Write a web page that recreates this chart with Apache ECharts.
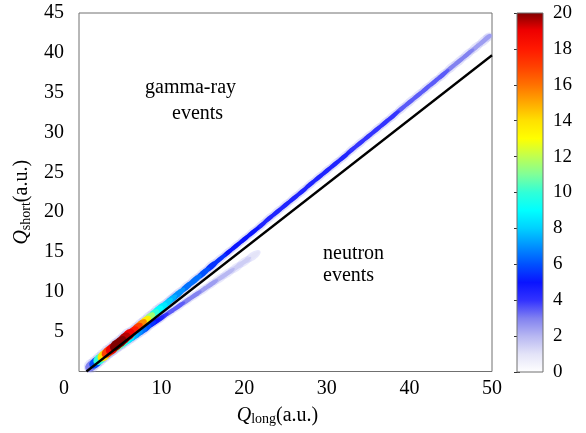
<!DOCTYPE html>
<html>
<head>
<meta charset="utf-8">
<script src="https://cdn.jsdelivr.net/npm/echarts@6/dist/echarts.min.js"></script>
<style>
  html, body { margin: 0; padding: 0; background: #ffffff; }
  #chart { width: 586px; height: 433px; }
</style>
</head>
<body>
<div id="chart"></div>
<script>
// Gamma-ray band: Q_long, centre of Q_short and counts per bin
const gammaQlong = [1.5, 2, 2.5, 3, 3.5, 4, 4.5, 5, 5.5, 6, 6.5, 7, 7.5, 8, 8.5, 9, 9.5, 10, 10.5, 11, 11.5, 12,
  13, 14, 15, 16, 17, 18, 19, 20, 21, 22, 23, 24, 25, 26, 27, 28, 29, 30, 31, 32, 33, 34, 35, 36, 37, 38, 39, 40,
  41, 42, 43, 44, 45, 46, 47, 48, 49, 49.5];
const gammaQshort = [0.7, 1.1, 1.55, 2.0, 2.45, 2.85, 3.3, 3.7, 4.15, 4.6, 5.0, 5.45, 5.9, 6.3, 6.75, 7.15, 7.6, 8.0, 8.45, 8.9, 9.3, 9.75,
  10.6, 11.45, 12.3, 13.2, 14.05, 14.9, 15.75, 16.6, 17.45, 18.3, 19.2, 20.05, 20.9, 21.75, 22.6, 23.5, 24.35, 25.2,
  26.05, 26.9, 27.8, 28.65, 29.5, 30.35, 31.2, 32.05, 32.95, 33.8, 34.65, 35.5, 36.35, 37.2, 38.1, 38.95, 39.8, 40.65, 41.5, 41.95];
const gammaCount = [3, 6, 10, 14, 17, 19, 20, 20, 19.5, 19, 18, 17, 15.5, 13.5, 11.5, 10, 9, 8.5, 8, 7.5, 7, 7,
  6.5, 6.5, 6, 5.5, 5.5, 5, 5, 5, 5, 4.5, 4.5, 4.5, 4.5, 4.5, 4.5, 4.5, 4.5, 4.5,
  4.5, 4.5, 4, 4, 4, 4, 4, 4, 3.5, 3.5, 3.5, 3.5, 3.5, 3.5, 3, 3, 3, 2.5, 2.5, 2.5];

// Neutron band
const neutronQlong = [2.5, 3, 3.5, 4, 4.5, 5, 5.5, 6, 6.5, 7, 7.5, 8, 8.5, 9, 9.5, 10, 11, 12, 13, 14, 15, 16, 17, 18, 19, 20, 21];
const neutronQshort = [1.5, 1.85, 2.2, 2.55, 2.9, 3.25, 3.6, 3.95, 4.3, 4.65, 5.0, 5.35, 5.7, 6.05, 6.4, 6.75, 7.45, 8.15, 8.85, 9.55,
  10.25, 10.95, 11.65, 12.35, 13.05, 13.75, 14.45];
const neutronCount = [5, 8, 10, 11, 11, 10.5, 9.5, 8.5, 7.5, 7, 6.5, 6, 5.5, 5, 4.5, 4, 3.5, 3.5, 3, 3, 2.5, 2.5, 2, 2, 1.5, 1.5, 1];

// Discrimination line end points
const cutQlong = [0.9, 50];
const cutQshort = [0, 39.7];

// Axis ticks
const xTicks = [0, 10, 20, 30, 40, 50];
const yTicks = [0, 5, 10, 15, 20, 25, 30, 35, 40, 45];
const colorTicks = [0, 2, 4, 6, 8, 10, 12, 14, 16, 18, 20];

// Colour map, one entry per count 0..20
const countColors = ['#ffffff', '#e4e4f8', '#b8b8f2', '#8282f0', '#3333ff', '#0a14ff', '#0050ff', '#0090ff', '#00d0ff',
  '#00ffff', '#30ffd8', '#80ff98', '#c0ff50', '#ffff00', '#ffe000', '#ffa800', '#ff7000', '#ff4000', '#ff1800', '#ee0000', '#800000'];

const SERIF = 'Liberation Serif';
const ELLIPSE = 'path://M0,10A20,10,0,1,1,40,10A20,10,0,1,1,0,10Z';

function bandPoints(ql, qs, cnt) {
  return ql.map((x, i) => [x, qs[i], cnt[i]]).sort((a, b) => a[2] - b[2]);
}
const gammaPts = bandPoints(gammaQlong, gammaQshort, gammaCount);
const neutronPts = bandPoints(neutronQlong, neutronQshort, neutronCount);
const cutPts = cutQlong.map((x, i) => [x, cutQshort[i]]);

// ellipse footprint of one bin, elongated along the band
function gammaSize(v) {
  const x = v[0];
  if (x <= 6) return [14, 10];
  if (x <= 10) return [14, 8];
  if (x <= 16) return [18, 6];
  if (x >= 49.5) return [9, 4.6];
  return [18, 4.6];
}
function neutronSize(v) {
  return v[0] <= 8 ? [14, 6.5] : [17, 4.6];
}
const grow = (f, d) => (v) => { const s = f(v); return [s[0] + 2, s[1] + d]; };

const chart = echarts.init(document.getElementById('chart'), null, { renderer: 'canvas' });

const axisFont = { fontFamily: SERIF, fontSize: 20, color: '#000' };
const titleRich = {
  q: { fontFamily: SERIF, fontSize: 20, fontStyle: 'italic', color: '#000', lineHeight: 22 },
  s: { fontFamily: SERIF, fontSize: 14, color: '#000', verticalAlign: 'bottom', lineHeight: 14 },
  t: { fontFamily: SERIF, fontSize: 20, color: '#000', lineHeight: 22 }
};

chart.setOption({
  animation: false,
  backgroundColor: '#ffffff',
  grid: [
    { left: 79, top: 13, width: 413, height: 358.5, show: true, borderColor: '#707070', borderWidth: 1,
      backgroundColor: 'transparent', outerBoundsMode: 'none', containLabel: false },
    { left: 517, top: 13, width: 26, height: 359, show: false, outerBoundsMode: 'none', containLabel: false }
  ],
  xAxis: [
    {
      gridIndex: 0, type: 'value', min: xTicks[0], max: xTicks[xTicks.length - 1], interval: xTicks[1] - xTicks[0],
      axisLine: { show: false }, axisTick: { show: false }, splitLine: { show: false },
      axisLabel: {
        ...axisFont, margin: 7,
        formatter: (v) => v === 0 ? '{z|0}' : String(v),
        rich: { z: { ...axisFont, padding: [0, 30, 0, 0] } }
      },
      name: '{q|Q}{s|long}{t|(a.u.)}', nameLocation: 'middle', nameGap: 33,
      nameTextStyle: { padding: [0, 16, 0, 0], rich: titleRich }
    },
    { gridIndex: 1, type: 'value', min: 0, max: 1, show: false }
  ],
  yAxis: [
    {
      gridIndex: 0, type: 'value', min: yTicks[0], max: yTicks[yTicks.length - 1], interval: yTicks[1] - yTicks[0],
      axisLine: { show: false }, axisTick: { show: false }, splitLine: { show: false },
      axisLabel: { ...axisFont, margin: 15, showMinLabel: false },
      name: '{q|Q}{s|short}{t|(a.u.)}', nameLocation: 'middle', nameGap: 46, nameRotate: 90,
      nameTextStyle: { padding: [0, 20, 0, 0], rich: titleRich }
    },
    {
      gridIndex: 1, type: 'value', position: 'right', min: colorTicks[0], max: colorTicks[colorTicks.length - 1],
      interval: colorTicks[1] - colorTicks[0],
      axisLine: { show: false }, splitLine: { show: false },
      axisTick: { show: true, inside: true, length: 3, lineStyle: { color: '#333', width: 1 } },
      axisLabel: { fontFamily: SERIF, fontSize: 19, color: '#000', margin: 10 }
    },
    {
      gridIndex: 1, type: 'value', position: 'left', min: colorTicks[0], max: colorTicks[colorTicks.length - 1],
      interval: colorTicks[1] - colorTicks[0],
      axisLine: { show: false }, splitLine: { show: false }, axisLabel: { show: false },
      axisTick: { show: true, inside: true, length: 3, lineStyle: { color: '#333', width: 1 } }
    }
  ],
  visualMap: {
    type: 'continuous', show: false, min: 0, max: 20, dimension: 2, seriesIndex: [2, 3],
    inRange: { color: countColors }
  },
  series: [
    {
      name: 'gamma halo', type: 'scatter', xAxisIndex: 0, yAxisIndex: 0, data: gammaPts,
      symbol: ELLIPSE, symbolKeepAspect: false, symbolSize: grow(gammaSize, 4), symbolRotate: 39.7,
      itemStyle: { color: '#a4a4f2', opacity: 0.3 }, silent: true, z: 1
    },
    {
      name: 'neutron halo', type: 'scatter', xAxisIndex: 0, yAxisIndex: 0, data: neutronPts,
      symbol: ELLIPSE, symbolKeepAspect: false, symbolSize: grow(neutronSize, 3.5), symbolRotate: 34,
      itemStyle: { color: '#a4a4f2', opacity: 0.25 }, silent: true, z: 1
    },
    {
      name: 'neutron events', type: 'scatter', xAxisIndex: 0, yAxisIndex: 0, data: neutronPts,
      symbol: ELLIPSE, symbolKeepAspect: false, symbolSize: neutronSize, symbolRotate: 34,
      itemStyle: { opacity: 1 }, z: 2
    },
    {
      name: 'gamma-ray events', type: 'scatter', xAxisIndex: 0, yAxisIndex: 0, data: gammaPts,
      symbol: ELLIPSE, symbolKeepAspect: false, symbolSize: gammaSize, symbolRotate: 39.7,
      itemStyle: { opacity: 1 }, z: 3
    },
    {
      name: 'cut', type: 'line', xAxisIndex: 0, yAxisIndex: 0, data: cutPts, showSymbol: false,
      lineStyle: { color: '#000', width: 2.3 }, z: 5
    },
    {
      name: 'colorbar', type: 'custom', xAxisIndex: 1, yAxisIndex: 1, data: [[0, colorTicks[0], 1, colorTicks[colorTicks.length - 1]]],
      renderItem: (params, api) => {
        const p0 = api.coord([api.value(0), api.value(1)]);
        const p1 = api.coord([api.value(2), api.value(3)]);
        const stops = countColors.map((c, i) => ({ offset: i / (countColors.length - 1), color: c }));
        return {
          type: 'rect',
          shape: { x: p0[0], y: p1[1], width: p1[0] - p0[0], height: p0[1] - p1[1] },
          style: { fill: new echarts.graphic.LinearGradient(0, 1, 0, 0, stops), stroke: '#707070', lineWidth: 1 }
        };
      },
      z: 1
    }
  ],
  graphic: [
    { type: 'text', left: 145, top: 78, style: { text: 'gamma-ray', font: '20px "Liberation Serif"', fill: '#000' } },
    { type: 'text', left: 172, top: 104, style: { text: 'events', font: '20px "Liberation Serif"', fill: '#000' } },
    { type: 'text', left: 323, top: 244, style: { text: 'neutron', font: '20px "Liberation Serif"', fill: '#000' } },
    { type: 'text', left: 323, top: 266, style: { text: 'events', font: '20px "Liberation Serif"', fill: '#000' } }
  ]
});
</script>
</body>
</html>
